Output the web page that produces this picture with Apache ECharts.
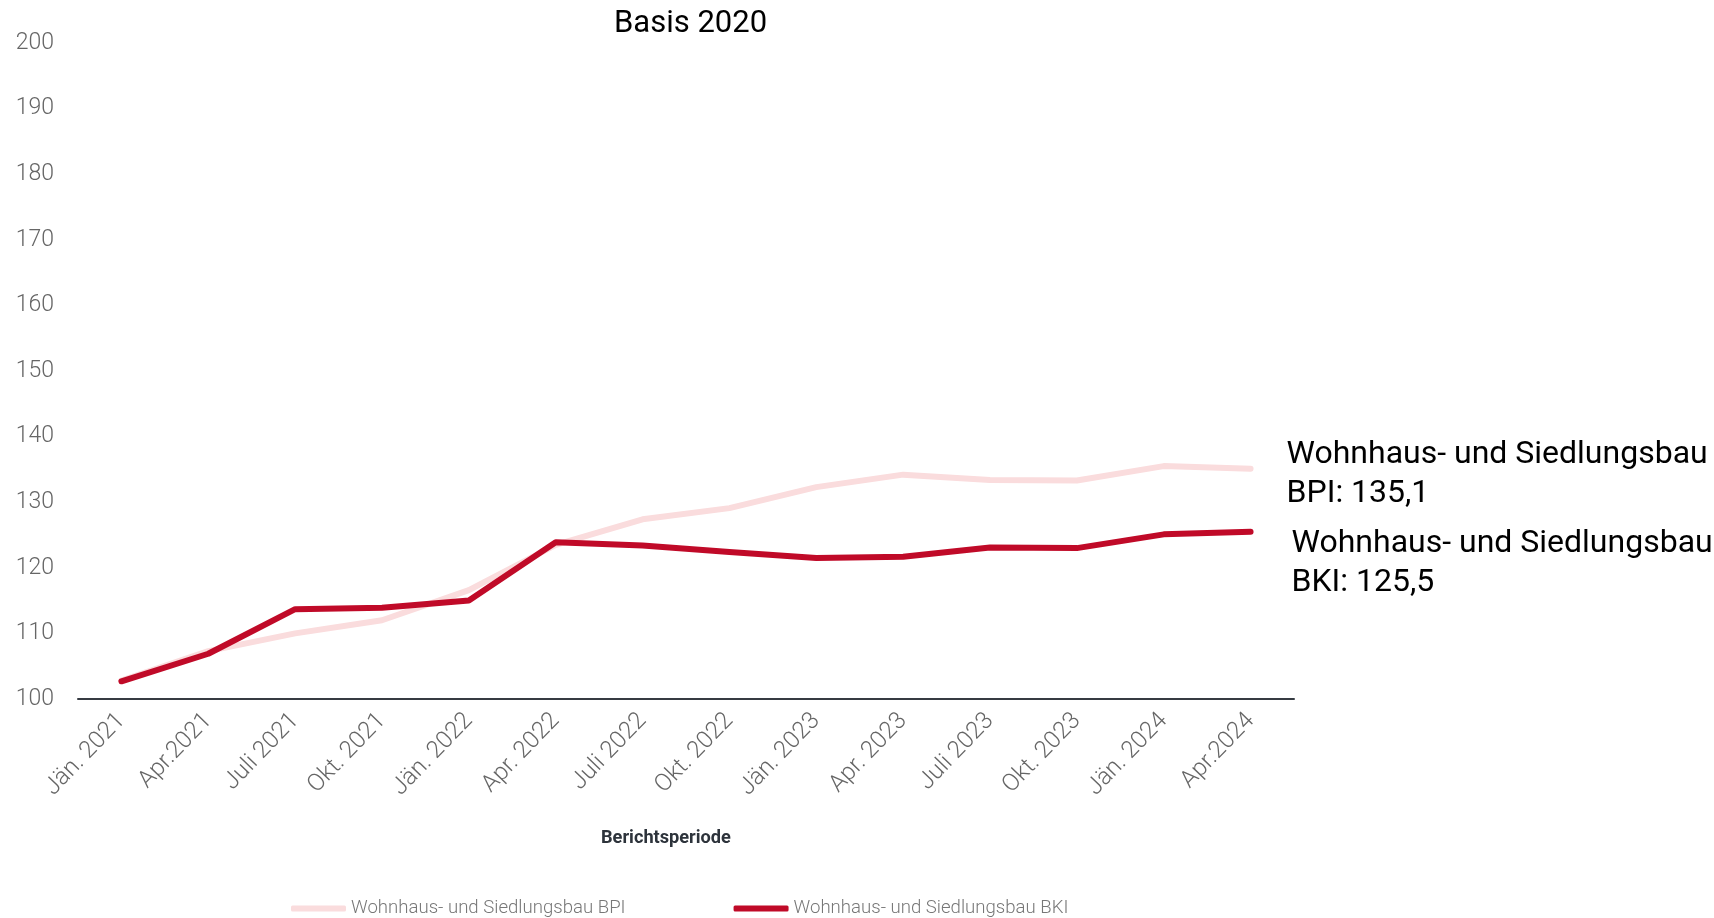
<!DOCTYPE html>
<html>
<head>
<meta charset="utf-8">
<script src="https://cdn.jsdelivr.net/npm/echarts@6/dist/echarts.min.js"></script>
<style>
html,body{margin:0;padding:0;background:#fff;}
#chart{width:1714px;height:918px;}
</style>
</head>
<body>
<div id="chart"></div>
<script>
const categories = ['Jän. 2021','Apr.2021','Juli 2021','Okt. 2021','Jän. 2022','Apr. 2022','Juli 2022','Okt. 2022','Jän. 2023','Apr. 2023','Juli 2023','Okt. 2023','Jän. 2024','Apr.2024'];
const bpiValues = [102.8, 107.3, 110.0, 112.0, 116.6, 123.5, 127.4, 129.1, 132.3, 134.2, 133.4, 133.3, 135.5, 135.1];
const bkiValues = [102.7, 106.9, 113.7, 113.9, 115.0, 123.9, 123.4, 122.4, 121.5, 121.7, 123.1, 123.0, 125.1, 125.5];
const bpiName = 'Wohnhaus- und Siedlungsbau BPI';
const bkiName = 'Wohnhaus- und Siedlungsbau BKI';
const titleText = 'Basis 2020';
const xAxisTitle = 'Berichtsperiode';

const chart = echarts.init(document.getElementById('chart'));
const fontFamily = 'Roboto, "Noto Sans", sans-serif';
chart.setOption({
  animation: false,
  textStyle: { fontFamily: fontFamily },
  title: {
    text: titleText,
    left: 609, top: 4, padding: 5,
    textStyle: { fontSize: 31, fontWeight: 'normal', color: '#000', fontFamily: fontFamily }
  },
  grid: { left: 78, right: 420, top: 43, bottom: 219, containLabel: false },
  legend: {
    left: 286, top: 894,
    itemWidth: 55, itemHeight: 6, itemGap: 108,
    icon: 'roundRect',
    textStyle: { fontSize: 18.6, color: '#777', fontWeight: 300, fontFamily: fontFamily },
    data: [bpiName, bkiName]
  },
  xAxis: {
    type: 'category',
    data: categories,
    boundaryGap: true,
    axisLine: { show: true, lineStyle: { color: '#363b42', width: 2 } },
    axisTick: { show: false },
    axisLabel: { rotate: 46, margin: 18, fontSize: 24, color: '#666', fontWeight: 300, fontFamily: fontFamily, interval: 0 },
    splitLine: { show: false }
  },
  yAxis: {
    type: 'value',
    min: 100, max: 200, interval: 10,
    axisLine: { show: false },
    axisTick: { show: false },
    splitLine: { show: false },
    axisLabel: { margin: 24, fontSize: 23, color: '#666', fontWeight: 300, fontFamily: fontFamily }
  },
  graphic: [{
    type: 'text',
    left: 601, top: 829,
    style: { text: xAxisTitle, fontSize: 18.2, fontWeight: 'bold', fill: '#2d333b', fontFamily: fontFamily }
  }],
  series: [
    {
      name: bpiName, type: 'line', data: bpiValues,
      showSymbol: false, symbol: 'none',
      lineStyle: { color: '#fadcdd', width: 6, cap: 'round', join: 'round' },
      itemStyle: { color: '#fadcdd' },
      endLabel: {
        show: true, distance: 36, offset: [0, 6],
        formatter: 'Wohnhaus- und Siedlungsbau\nBPI: 135,1',
        fontSize: 32, lineHeight: 39, color: '#000', fontFamily: fontFamily
      },
      z: 1
    },
    {
      name: bkiName, type: 'line', data: bkiValues,
      showSymbol: false, symbol: 'none',
      lineStyle: { color: '#c00a28', width: 6, cap: 'round', join: 'round' },
      itemStyle: { color: '#c00a28' },
      endLabel: {
        show: true, distance: 41, offset: [0, 32],
        formatter: 'Wohnhaus- und Siedlungsbau\nBKI: 125,5',
        fontSize: 32, lineHeight: 39, color: '#000', fontFamily: fontFamily
      },
      z: 2
    }
  ]
});
</script>
</body>
</html>
